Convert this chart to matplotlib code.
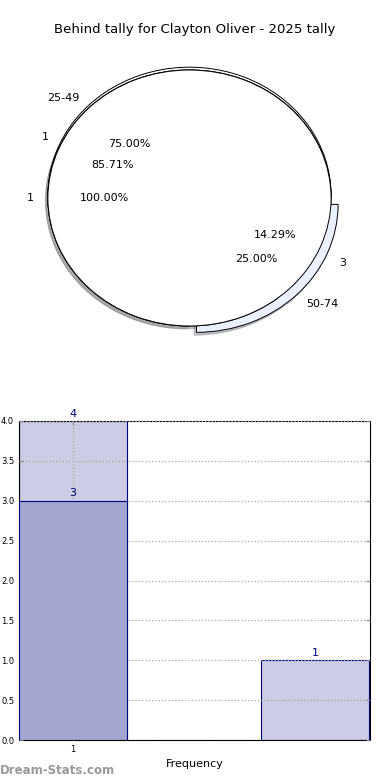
import matplotlib
matplotlib.use("Agg")
import matplotlib.pyplot as plt

TITLE = "Behind tally for Clayton Oliver - 2025 tally"

# pie rings (outer drawn first, inner last)
outer_labels = ["25-49", "50-74"]
outer_values = [3, 1]
mid_labels = ["1", "3"]
mid_values = [6, 1]
inner_labels = ["1"]
inner_values = [1]

# bar chart
bar_x = [1, 3.24]
bar_totals = [4, 1]
bar_dark_x = [1]
bar_dark = [3]
x_ticks = [1]

COLOR_WEDGE = "white"
COLOR_EXPLODED = "#eaf0fe"
COLOR_LIGHT = "#cccce4"
COLOR_DARK = "#a3a5d1"
COLOR_EDGE = "#000080"

fig = plt.figure(figsize=(3.9, 7.8), dpi=100)
fig.text(0.5, 1 - 30 / 780, TITLE, ha="center", va="center", fontsize=9.5)

# ─── pie ─────────────────────────────────────────────────────────────────────
ax = fig.add_axes([12.5 / 390, 1 - 358 / 780, 354 / 390, 320 / 780])
txt = dict(fontsize=8)
shad = dict(ox=-0.012, oy=-0.016, shade=0.45)
wp = dict(edgecolor="black", linewidth=0.7)
# faint upward ghost ring seen around the top of the reference
ax.pie(outer_values, startangle=0, center=(0, 0.022),
       colors=[COLOR_WEDGE, COLOR_WEDGE], wedgeprops=wp)
ax.pie(outer_values, labels=outer_labels, autopct="%.2f%%", startangle=0,
       explode=[0, 0.07], colors=[COLOR_WEDGE, COLOR_EXPLODED], shadow=shad,
       wedgeprops=wp, textprops=txt)
mid_wedges, _, _ = ax.pie(mid_values, labels=mid_labels, autopct="%.2f%%",
                          startangle=0, explode=[0, 0.07],
                          colors=[COLOR_WEDGE, COLOR_WEDGE],
                          wedgeprops=wp, textprops=txt)
mid_wedges[1].set_visible(False)  # keeps the light-blue ring visible
ax.pie(inner_values, labels=inner_labels, autopct="%.2f%%", startangle=0,
       colors=[COLOR_WEDGE], shadow=shad,
       wedgeprops=wp, textprops=txt)
ax.set_aspect("auto")
ax.set_xlim(-1.25, 1.25)
ax.set_ylim(-1.25, 1.25)

# ─── bars ────────────────────────────────────────────────────────────────────
bx = fig.add_axes([19 / 390, 40 / 780, 351 / 390, 319 / 780])
bx.bar(bar_x, bar_totals, width=1.0, color=COLOR_LIGHT, edgecolor=COLOR_EDGE,
       linewidth=0.8, zorder=2)
bx.bar(bar_dark_x, bar_dark, width=1.0, color=COLOR_DARK, edgecolor=COLOR_EDGE,
       linewidth=0.8, zorder=3)
for x, h in list(zip(bar_x, bar_totals)) + list(zip(bar_dark_x, bar_dark)):
    bx.text(x, h + 0.03, str(h), ha="center", va="bottom", fontsize=8,
            color=COLOR_EDGE, zorder=5)
bx.set_xlim(0.5, 3.75)
bx.set_ylim(0, 4)
bx.set_xticks(x_ticks)
bx.set_yticks([i * 0.5 for i in range(9)])
bx.yaxis.set_major_formatter(matplotlib.ticker.FormatStrFormatter("%.1f"))
bx.tick_params(labelsize=6, length=3, color="#888888", top=True, right=True,
               direction="in")
bx.grid(True, linestyle=":", color="#aaaaaa", linewidth=0.9, zorder=4)
bx.set_axisbelow(False)
bx.set_xlabel("Frequency", fontsize=8, labelpad=4)

fig.text(0.0, 10 / 780, "Dream-Stats.com", fontsize=8.5, color="#999999",
         fontweight="bold", ha="left", va="center")

fig.savefig("out.png", dpi=100, facecolor="white")
